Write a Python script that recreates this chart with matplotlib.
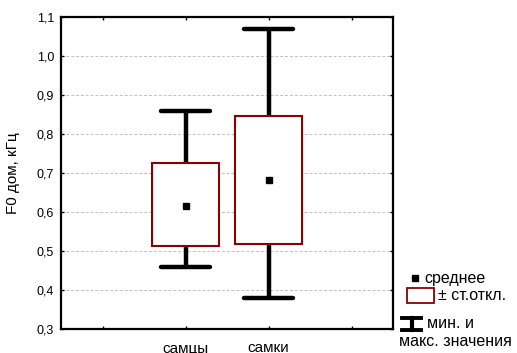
import numpy as np
from matplotlib import pyplot as plt
from matplotlib.patches import Rectangle
from matplotlib.lines import Line2D

plt.rcParams['font.family'] = ['Liberation Sans', 'DejaVu Sans']

groups = ['самцы', 'самки']
means = [0.615, 0.682]
sd_low = [0.513, 0.519]
sd_high = [0.725, 0.846]
mins = [0.46, 0.38]
maxs = [0.86, 1.07]
yticks = [0.3, 0.4, 0.5, 0.6, 0.7, 0.8, 0.9, 1.0, 1.1]

fig = plt.figure(figsize=(5.17, 3.53), dpi=100)
ax = fig.add_axes([61 / 517, 1 - 329 / 353, 332 / 517, 312 / 353])

pos = np.arange(1, len(groups) + 1)

# whiskers
ax.vlines(pos, mins, maxs, color='black', lw=3.2, zorder=2)
ax.hlines(mins, pos - 0.3, pos + 0.3, color='black', lw=3.2, capstyle='round', zorder=2)
ax.hlines(maxs, pos - 0.3, pos + 0.3, color='black', lw=3.2, capstyle='round', zorder=2)

# +- sd boxes
heights = np.array(sd_high) - np.array(sd_low)
ax.bar(pos, heights, bottom=sd_low, width=0.8, color='white',
       edgecolor='#8b0000', linewidth=1.5, zorder=3)

# means
ax.plot(pos, means, 's', color='black', ms=4.5, zorder=4)

ax.set_xlim(-0.5, 3.5)
ax.set_ylim(0.3, 1.1)
ax.set_xticks([0, 1, 2, 3])
ax.set_xticklabels(['', groups[0], groups[1], ''], fontsize=11)
ax.set_yticks(yticks)
ax.set_yticklabels([f'{v:.1f}'.replace('.', ',') for v in yticks], fontsize=9)
ax.tick_params(direction='in', length=2, width=1, top=True, right=True, colors='black')
ax.tick_params(axis='x', pad=9)
ax.tick_params(axis='y', pad=5)
ax.yaxis.grid(True, linestyle='--', color='#c0c0c0', lw=0.7, dashes=(3, 2))
ax.set_axisbelow(True)
for s in ax.spines.values():
    s.set_linewidth(1.6)
ax.set_ylabel('F0 дом, кГц', fontsize=11, labelpad=12)

# legend
fs = 11.5
fig.patches.append(Rectangle((412 / 517, 1 - 281 / 353), 6 / 517, 6 / 353,
                             transform=fig.transFigure, color='black'))
fig.text(424 / 517, 1 - 278 / 353, 'среднее', fontsize=fs, va='center', ha='left')
fig.patches.append(Rectangle((407 / 517, 1 - 303 / 353), 27 / 517, 15 / 353,
                             transform=fig.transFigure, fill=False,
                             edgecolor='#8b0000', lw=1.3))
fig.text(438 / 517, 1 - 296 / 353, '± ст.откл.', fontsize=fs, va='center', ha='left')
for yy in (318, 330):
    fig.lines.append(Line2D([402 / 517, 421 / 517], [1 - yy / 353] * 2,
                            transform=fig.transFigure, color='black', lw=2.8))
fig.lines.append(Line2D([411.5 / 517] * 2, [1 - 330 / 353, 1 - 318 / 353],
                        transform=fig.transFigure, color='black', lw=3))
fig.text(427 / 517, 1 - 323 / 353, 'мин. и', fontsize=fs, va='center', ha='left')
fig.text(399 / 517, 1 - 341 / 353, 'макс. значения', fontsize=fs, va='center', ha='left')

fig.savefig('out.png', dpi=100)
